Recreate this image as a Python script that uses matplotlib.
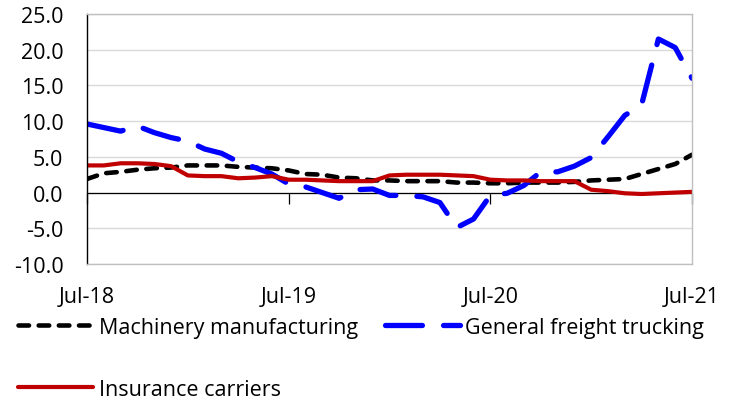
import matplotlib
matplotlib.use("Agg")
import matplotlib.pyplot as plt

plt.rcParams['font.family'] = ['Open Sans', 'DejaVu Sans']

months = list(range(37))  # Jul-18 .. Jul-21, monthly
tick_pos = [0, 12, 24, 36]
tick_labels = ["Jul-18", "Jul-19", "Jul-20", "Jul-21"]

machinery = [1.9, 2.7, 2.9, 3.2, 3.4, 3.5, 3.8, 3.8, 3.8, 3.6, 3.5, 3.4, 3.1,
             2.6, 2.5, 2.1, 2.0, 1.7, 1.7, 1.6, 1.6, 1.6, 1.4, 1.4, 1.3, 1.3,
             1.4, 1.4, 1.4, 1.5, 1.7, 1.8, 1.9, 2.6, 3.3, 4.0, 5.3]
trucking = [9.6, 9.1, 8.6, 9.3, 8.4, 7.7, 7.2, 6.1, 5.5, 4.3, 3.5, 2.6, 1.2,
            0.8, 0.0, -0.8, 0.4, 0.5, -0.4, -0.4, -0.6, -1.4, -4.9, -3.7, -0.4,
            -0.1, 1.0, 2.9, 2.9, 3.7, 4.9, 7.8, 10.8, 12.3, 21.5, 20.3, 16.0]
insurance = [3.8, 3.8, 4.1, 4.1, 4.0, 3.7, 2.4, 2.3, 2.3, 2.0, 2.1, 2.3, 1.8,
             1.8, 1.7, 1.6, 1.6, 1.6, 2.4, 2.5, 2.5, 2.5, 2.4, 2.3, 1.8, 1.7,
             1.7, 1.6, 1.6, 1.6, 0.4, 0.2, -0.1, -0.2, -0.1, 0.0, 0.1]

labels = ["Machinery manufacturing", "General freight trucking", "Insurance carriers"]

fig = plt.figure(figsize=(7.34, 4.02), dpi=100)
ax = fig.add_axes([87/734, 1-265/402, (692-87)/734, (265-15)/402])

l1, = ax.plot(months, machinery, color="black", lw=3.3, dash_capstyle='round')
l1.set_dashes([2.3, 2.1])
l2, = ax.plot(months, trucking, color="#0000FF", lw=3.8, dash_capstyle='round')
l2.set_dashes([7.0, 4.0])
l3, = ax.plot(months, insurance, color="#C00000", lw=3.0, solid_capstyle='round')

yt = [-10, -5, 0, 5, 10, 15, 20, 25]
ax.set_xlim(0, 36)
ax.set_ylim(-10, 25)
ax.set_yticks(yt)
ax.set_yticklabels([f"{v:.1f}" for v in yt])
ax.grid(axis='y', color="#D9D9D9", lw=1.0)
ax.set_axisbelow(True)
ax.tick_params(axis='y', length=0, pad=17, labelsize=15.5)
ax.set_xticks(tick_pos)
ax.set_xticklabels(tick_labels)
ax.tick_params(axis='x', length=0, pad=16, labelsize=15.5)

for s in ['top', 'right', 'bottom']:
    ax.spines[s].set_color("#BFBFBF")
    ax.spines[s].set_linewidth(1.0)
ax.spines['left'].set_color("black")
ax.spines['left'].set_linewidth(1.0)

# zero axis line with tick marks
ax.axhline(0, color="black", lw=0.9, zorder=1.5)
sec = ax.secondary_xaxis(10/35)
sec.set_xticks(tick_pos)
sec.set_xticklabels([])
sec.tick_params(axis='x', direction='out', length=8, width=0.9, color='black')
sec.spines['bottom'].set_visible(False)

leg = fig.legend([l1, l3, l2], [labels[0], labels[2], labels[1]], ncol=2,
                 loc='upper left', bbox_to_anchor=(18/734, 1-318/402),
                 frameon=False, fontsize=15.5, borderpad=0, borderaxespad=0,
                 handlelength=3.5, handletextpad=0.25, labelspacing=1.9,
                 columnspacing=1.25)

fig.savefig("out.png", dpi=100)
